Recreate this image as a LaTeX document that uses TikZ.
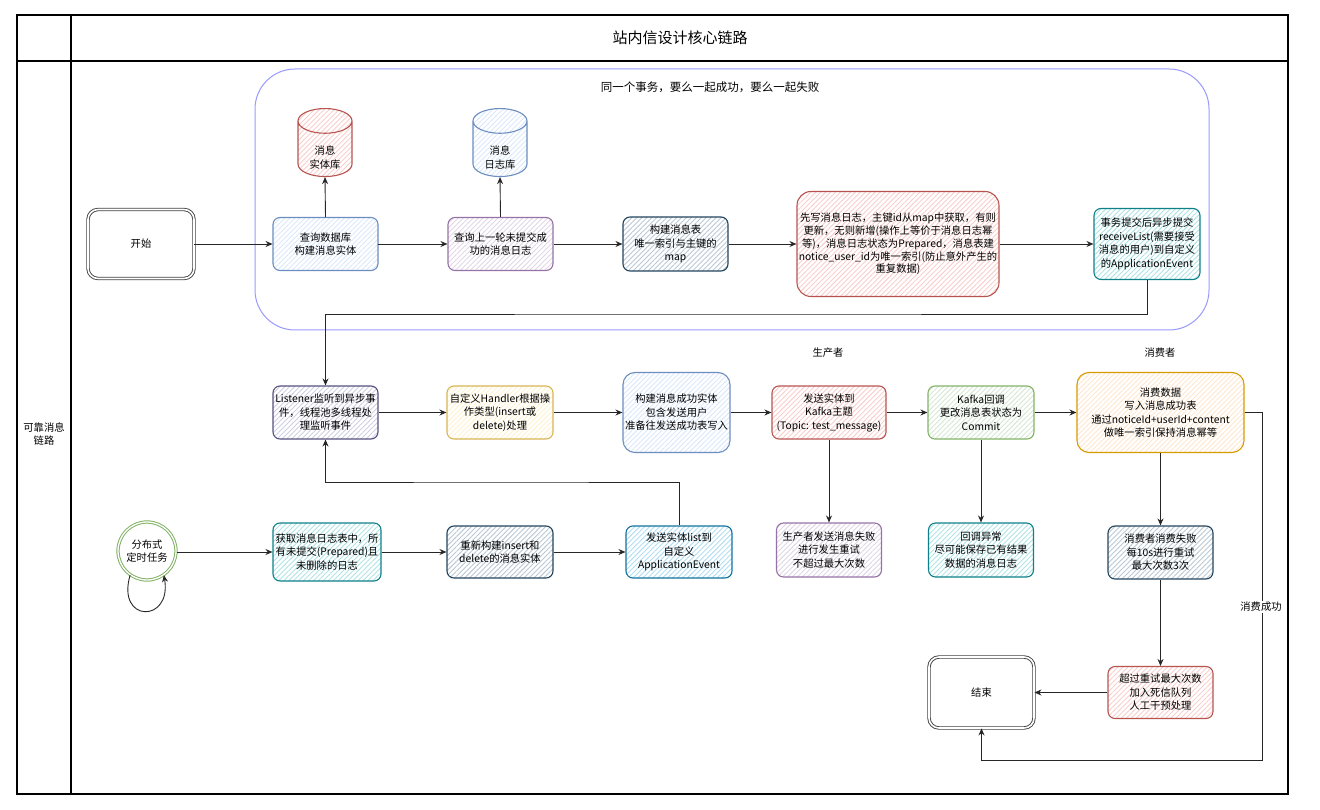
\documentclass[tikz,border=0pt]{standalone}
\usepackage{fontspec}
\setmainfont{Noto Sans CJK SC}
\usetikzlibrary{arrows.meta,patterns.meta,shapes.geometric,calc}
\definecolor{bluef}{HTML}{DAE8FC}\definecolor{bluel}{HTML}{6C8EBF}
\definecolor{redf}{HTML}{F8CECC}\definecolor{redl}{HTML}{B85450}
\definecolor{purf}{HTML}{E1D5E7}\definecolor{purl}{HTML}{9673A6}
\definecolor{slaf}{HTML}{BAC8D3}\definecolor{slal}{HTML}{23445D}
\definecolor{teaf}{HTML}{B0E3E6}\definecolor{teal2}{HTML}{0E8088}
\definecolor{yelf}{HTML}{FFF2CC}\definecolor{yell}{HTML}{D6B656}
\definecolor{grnf}{HTML}{D5E8D4}\definecolor{grnl}{HTML}{82B366}
\definecolor{oraf}{HTML}{FFE6CC}\definecolor{oral}{HTML}{D79B00}
\definecolor{lisf}{HTML}{D0CEE2}\definecolor{lisl}{HTML}{56517E}
\definecolor{skyf}{HTML}{B1DDF0}\definecolor{skyl}{HTML}{10739E}
\definecolor{contl}{HTML}{9999FF}
\newcommand{\nf}{\fontsize{10.3}{13.5}\selectfont}
\newcommand{\dbtext}[2]{\raisebox{-12.5pt}[0pt][0pt]{\begin{tabular}{@{}c@{}}#1\\#2\end{tabular}}}
\tikzset{
  box/.style={rectangle, rounded corners=7pt, line width=1.1pt, align=center, inner sep=1pt, font=\nf},
  hatchfill/.style={pattern={Lines[angle=45,distance=3.5pt,line width=0.9pt]}, pattern color=#1},
  bbox/.style={box, draw=bluel, hatchfill=bluef},
  rbox/.style={box, draw=redl, hatchfill=redf},
  pbox/.style={box, draw=purl, hatchfill=purf},
  sbox/.style={box, draw=slal, hatchfill=slaf},
  tbox/.style={box, draw=teal2, hatchfill=teaf},
  ybox/.style={box, draw=yell, hatchfill=yelf},
  gbox/.style={box, draw=grnl, hatchfill=grnf},
  obox/.style={box, draw=oral, hatchfill=oraf},
  lbox/.style={box, draw=lisl, hatchfill=lisf},
  kbox/.style={box, draw=skyl, hatchfill=skyf},
  termbox/.style={rectangle, rounded corners=10pt, draw=black!75, double=white, double distance=1.6pt, line width=0.9pt, align=center, font=\nf},
  dbshape/.style={cylinder, shape border rotate=90, aspect=0.8, line width=1.1pt, inner sep=0pt, font=\nf, minimum width=54pt, minimum height=68pt},
  arr/.style={draw=black!85, line width=0.9pt, -{Stealth[length=7pt,width=6pt]}},
}
\begin{document}
\begin{tikzpicture}[x=1pt,y=-1pt]
\useasboundingbox (0,0) rectangle (1320,810);
% frame
\draw[line width=1.3pt] (17,15) rectangle (1288,794);
\draw[line width=1.1pt] (17,61) -- (1288,61);
\draw[line width=1.1pt] (71,15) -- (71,794);
\node[font=\fontsize{15}{18}\selectfont] (title) at (680,38) {站内信设计核心链路};
\node[font=\nf, align=center] (lane) at (44,434) {可靠消息\\链路};
% transaction container
\draw[contl, line width=1pt, rounded corners=40pt] (255,69) rectangle (1209,330);
\node[font=\fontsize{11.5}{14}\selectfont] (ctx) at (710,87) {同一个事务，要么一起成功，要么一起失败};

% row 1
\node[termbox, minimum width=106pt, minimum height=69pt] (start) at (141,244) {开始};
\node[bbox, minimum width=105pt, minimum height=53pt] (n1) at (325.5,244) {查询数据库\\构建消息实体};
\node[dbshape, draw=redl, hatchfill=redf] (db1) at (325,149) {\dbtext{消息}{实体库}};
\node[pbox, minimum width=105pt, minimum height=53pt] (n2) at (500.5,244) {查询上一轮未提交成\\功的消息日志};
\node[dbshape, draw=bluel, hatchfill=bluef] (db2) at (500,149) {\dbtext{消息}{日志库}};
\node[sbox, minimum width=105pt, minimum height=54pt] (n3) at (675.5,244) {构建消息表\\唯一索引与主键的\\map};
\node[rbox, rounded corners=14pt, minimum width=202pt, minimum height=105pt, font=\fontsize{10.3}{12.8}\selectfont] (n4) at (898,244) {先写消息日志，主键id从map中获取，有则\\更新，无则新增(操作上等价于消息日志幂\\等)，消息日志状态为Prepared，消息表建\\notice\_user\_id为唯一索引(防止意外产生的\\重复数据)};
\node[tbox, minimum width=106pt, minimum height=71pt] (n5) at (1147,244) {事务提交后异步提交\\receiveList(需要接受\\消息的用户)到自定义\\的ApplicationEvent};

% row 2
\node[font=\nf] (prod) at (828,353) {生产者};
\node[font=\nf] (cons) at (1160,353) {消费者};
\node[lbox, minimum width=105pt, minimum height=53pt] (l1) at (325.5,412.5) {Listener监听到异步事\\件，线程池多线程处\\理监听事件};
\node[ybox, minimum width=106pt, minimum height=53pt] (l2) at (500,412.5) {自定义Handler根据操\\作类型(insert或\\delete)处理};
\node[bbox, rounded corners=12pt, minimum width=107pt, minimum height=80pt] (l3) at (676.5,412.5) {构建消息成功实体\\包含发送用户\\准备往发送成功表写入};
\node[rbox, minimum width=114pt, minimum height=53pt] (l4) at (829,412.5) {发送实体到\\Kafka主题\\(Topic: test\_message)};
\node[gbox, minimum width=106pt, minimum height=53pt] (l5) at (981,412.5) {Kafka回调\\更改消息表状态为\\Commit};
\node[obox, rounded corners=12pt, minimum width=167pt, minimum height=80pt] (l6) at (1160.5,412.5) {消费数据\\写入消息成功表\\通过noticeId+userId+content\\做唯一索引保持消息幂等};

% row 3
\node[circle, draw=grnl, double=white, double distance=1.3pt, line width=1pt, minimum size=58pt, inner sep=0pt, align=center, font=\nf] (circ) at (147,551) {分布式\\定时任务};
\node[tbox, minimum width=108pt, minimum height=58pt] (m1) at (327,552) {获取消息日志表中，所\\有未提交(Prepared)且\\未删除的日志};
\node[sbox, minimum width=106pt, minimum height=52pt] (m2) at (500,552) {重新构建insert和\\delete的消息实体};
\node[kbox, minimum width=106pt, minimum height=52pt] (m3) at (679,552) {发送实体list到\\自定义\\ApplicationEvent};
\node[pbox, minimum width=105pt, minimum height=54pt] (f1) at (829,550) {生产者发送消息失败\\进行发生重试\\不超过最大次数};
\node[tbox, minimum width=105pt, minimum height=54pt] (f2) at (981,550) {回调异常\\尽可能保存已有结果\\数据的消息日志};
\node[sbox, minimum width=105pt, minimum height=53pt] (f3) at (1160.5,552.5) {消费者消费失败\\每10s进行重试\\最大次数3次};

% row 4
\node[termbox, minimum width=105pt, minimum height=71pt] (end) at (981.5,692.5) {结束};
\node[rbox, minimum width=105pt, minimum height=52pt] (dl) at (1160.5,692.5) {超过重试最大次数\\加入死信队列\\人工干预处理};

% connectors row 1
\draw[arr] (start) -- (n1);
\draw[arr] (n1) -- (n2);
\draw[arr] (n2) -- (n3);
\draw[arr] (n3) -- (n4);
\draw[arr] (n4) -- (n5);
\draw[arr] (n1.north) -- (db1.south);
\draw[arr] (n2.north) -- (db2.south);
\coordinate (k1) at (700,314);
\draw[arr] (n5.south) |- (k1) -| (l1.north);
% row 2
\draw[arr] (l1) -- (l2);
\draw[arr] (l2) -- (l3);
\draw[arr] (l3) -- (l4);
\draw[arr] (l4) -- (l5);
\draw[arr] (l5) -- (l6);
\draw[arr] (l4.south) -- (f1.north);
\draw[arr] (l5.south) -- (f2.north);
\draw[arr] (l6.south) -- (f3.north);
\draw[arr] (f3.south) -- (dl.north);
\draw[arr] (dl.west) -- (end.east);
\coordinate (k3) at (1262,760);
\draw[arr] (l6.east) -| (k3) -| (end.south);
\node[fill=white, inner sep=1pt, font=\nf] (ok) at (1261,607) {消费成功};
% row 3
\draw[arr] (circ.east |- m1.west) -- (m1.west);
\draw[arr] (m1) -- (m2);
\draw[arr] (m2) -- (m3);
\coordinate (k2) at (500,482);
\draw[arr] (m3.north) |- (k2) -| (l1.south);
\draw[arr] (circ.235) .. controls +(-14,48) and +(8,48) .. (circ.305);
\end{tikzpicture}
\end{document}
